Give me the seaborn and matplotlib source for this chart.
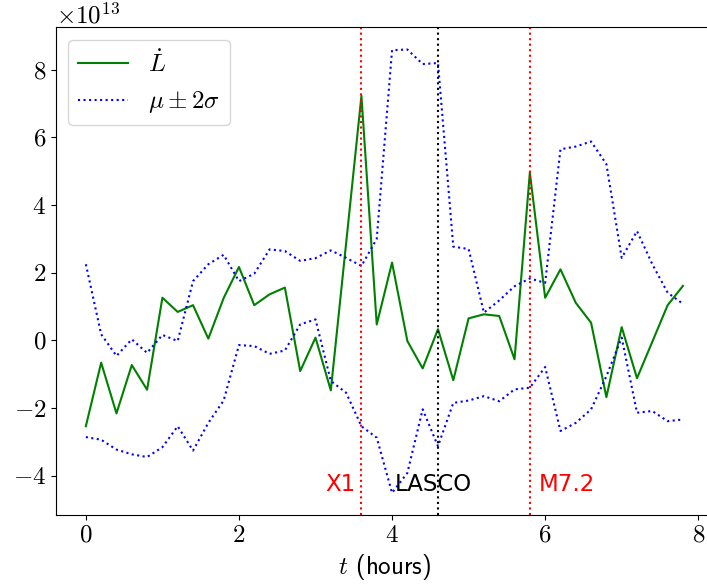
import numpy as np
import pandas as pd
import seaborn as sns
import matplotlib
matplotlib.use("Agg")
import matplotlib.pyplot as plt

# time in hours, luminosity derivative and the mu +/- 2 sigma band (units of 1e13)
hours = [0.0, 0.2, 0.4, 0.6, 0.8, 1.0, 1.2, 1.4, 1.6, 1.8,
         2.0, 2.2, 2.4, 2.6, 2.8, 3.0, 3.2, 3.4, 3.6, 3.8,
         4.0, 4.2, 4.4, 4.6, 4.8, 5.0, 5.2, 5.4, 5.6, 5.8,
         6.0, 6.2, 6.4, 6.6, 6.8, 7.0, 7.2, 7.4, 7.6, 7.8]
l_dot = [-2.54, -0.66, -2.16, -0.73, -1.46, 1.26, 0.84, 1.04, 0.05, 1.25,
         2.17, 1.04, 1.36, 1.56, -0.91, 0.08, -1.48, 2.87, 7.23, 0.47,
         2.30, -0.02, -0.83, 0.33, -1.18, 0.65, 0.77, 0.72, -0.56, 4.96,
         1.26, 2.10, 1.11, 0.52, -1.68, 0.39, -1.12, -0.04, 1.04, 1.61]
upper = [2.25, 0.18, -0.46, 0.03, -0.37, 0.16, -0.02, 1.75, 2.25, 2.53,
         1.75, 1.97, 2.69, 2.64, 2.35, 2.43, 2.66, 2.44, 2.20, 3.00,
         8.58, 8.60, 8.17, 8.20, 2.77, 2.70, 0.82, 1.18, 1.60, 1.83,
         1.70, 5.65, 5.73, 5.88, 5.21, 2.44, 3.23, 2.25, 1.41, 1.08]
lower = [-2.86, -2.94, -3.23, -3.37, -3.45, -3.16, -2.54, -3.26, -2.44, -1.78,
         -0.14, -0.17, -0.40, -0.30, 0.47, 0.62, -1.20, -1.55, -2.54, -2.88,
         -4.51, -3.92, -2.04, -3.13, -1.85, -1.78, -1.65, -1.80, -1.45, -1.40,
         -0.79, -2.68, -2.44, -2.04, -1.06, 0.08, -2.14, -2.09, -2.39, -2.34]
scale = 1e13

event_times = [3.6, 4.6, 5.8]
event_labels = ["X1", "LASCO", "M7.2"]
event_colors = ["red", "black", "red"]

df = pd.DataFrame({
    "t": hours,
    "ldot": np.array(l_dot) * scale,
    "upper": np.array(upper) * scale,
    "lower": np.array(lower) * scale,
})

plt.rcParams["font.family"] = "cmr10"
plt.rcParams["mathtext.fontset"] = "cm"
plt.rcParams["axes.formatter.use_mathtext"] = True
plt.rcParams["font.size"] = 18

fig = plt.figure(figsize=(7.07, 5.88), dpi=100)
ax = fig.add_axes([0.0792, 0.1241, 0.929, 0.8294])

sns.lineplot(data=df, x="t", y="ldot", color="green", lw=1.5,
             label=r"$\dot{L}$", ax=ax, estimator=None)
sns.lineplot(data=df, x="t", y="upper", color="blue", lw=1.5, linestyle=":",
             label=r"$\mu \pm 2\sigma$", ax=ax, estimator=None)
sns.lineplot(data=df, x="t", y="lower", color="blue", lw=1.5, linestyle=":",
             ax=ax, estimator=None)

for t0, c in zip(event_times, event_colors):
    ax.axvline(t0, color=c, linestyle=":", lw=1.5)

# event labels near the bottom of the axes
y_txt = -4.46 * scale
ax.text(event_times[0] - 0.08, y_txt, event_labels[0], color=event_colors[0],
        ha="right", va="baseline", fontsize=16.5, family="DejaVu Sans")
ax.text(event_times[1] - 0.06, y_txt, event_labels[1], color=event_colors[1],
        ha="center", va="baseline", fontsize=16.5, family="DejaVu Sans")
ax.text(event_times[2] + 0.11, y_txt, event_labels[2], color=event_colors[2],
        ha="left", va="baseline", fontsize=16.5, family="DejaVu Sans")

ax.set_xlabel(r"$t$ (hours)", family="cmss10")
ax.set_ylabel("")
ax.set_xticks([0, 2, 4, 6, 8])
ax.legend(loc="upper left", fontsize=18)

fig.savefig("out.png", dpi=100)
